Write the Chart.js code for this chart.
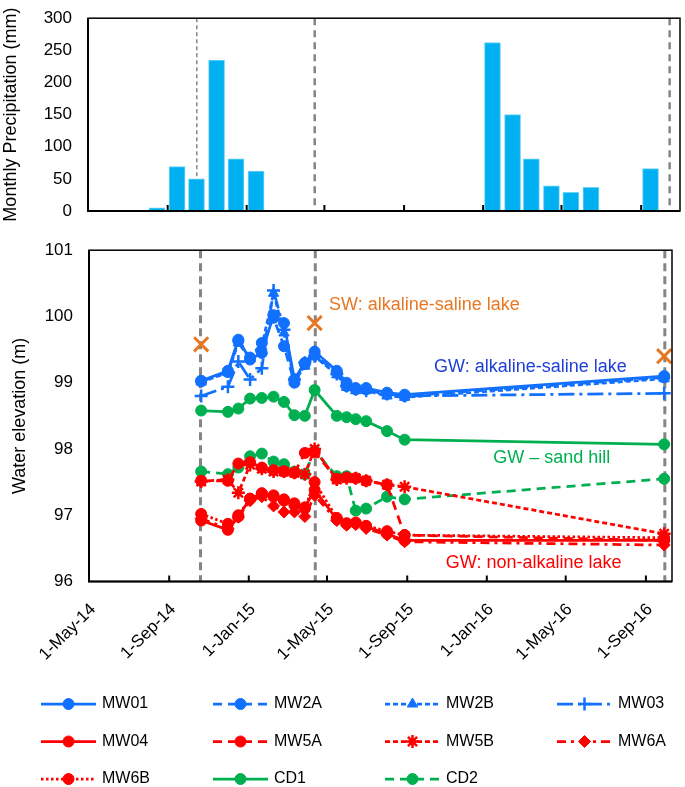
<!DOCTYPE html>
<html>
<head>
<meta charset="utf-8">
<script src="https://cdn.jsdelivr.net/npm/chart.js@4/dist/chart.umd.min.js"></script>
<style>
  html, body { margin: 0; padding: 0; background: #fff; }
  #wrap { position: relative; width: 685px; height: 787px; overflow: hidden; }
  #rainBox { position: absolute; left: 0; top: 0; width: 685px; height: 235px; }
  #levelBox { position: absolute; left: 0; top: 232px; width: 685px; height: 555px; }
</style>
</head>
<body>
<div id="wrap">
  <div id="rainBox"><canvas id="rainChart"></canvas></div>
  <div id="levelBox"><canvas id="levelChart"></canvas></div>
</div>
<script>
// monthly precipitation (mm), months May-14 .. Oct-16
const rainMonths = ['2014-05','2014-06','2014-07','2014-08','2014-09','2014-10','2014-11','2014-12',
  '2015-01','2015-02','2015-03','2015-04','2015-05','2015-06','2015-07','2015-08','2015-09','2015-10','2015-11','2015-12',
  '2016-01','2016-02','2016-03','2016-04','2016-05','2016-06','2016-07','2016-08','2016-09','2016-10'];
const rainMm = [0, 0, 0, 5, 69, 50, 235, 81,
  62, 0, 0, 0, 0, 0, 0, 0, 0, 0, 0, 0,
  262, 150, 81, 39, 29, 37, 0, 0, 66, 0];

// sampling dates of the water level campaign
const sampleDates = ['2014-10-20','2014-11-30','2014-12-16','2015-01-03','2015-01-21','2015-02-08','2015-02-24',
  '2015-03-12','2015-03-28','2015-04-12','2015-05-16','2015-05-31','2015-06-14','2015-06-30','2015-08-01',
  '2015-08-28','2016-09-29'];

// water elevation (m)
const mw01 = [99.03, 99.18, 99.65, 99.35, 99.45, 100.02, 99.90, 99.05, 99.30, 99.47, 99.18, 99.00, 98.92, 98.92, 98.85, 98.82, 99.10];
const mw2a = [99.02, 99.16, 99.63, 99.38, 99.60, 99.98, 99.55, 99.00, 99.28, 99.42, 99.15, 98.95, 98.90, 98.90, 98.83, 98.80, 99.08];
const mw2b = [99.01, 99.15, 99.60, 99.36, 99.55, 100.35, 99.75, 99.02, 99.25, 99.40, 99.12, 98.93, 98.88, 98.88, 98.80, 98.78, 99.06];
const mw03 = [98.80, 98.94, 99.32, 99.05, 99.22, 100.39, 99.80, 99.05, 99.30, 99.40, 99.13, 98.95, 98.90, 98.88, 98.83, 98.80, 98.84];
const mw04 = [96.92, 96.78, 96.98, 97.25, 97.33, 97.30, 97.24, 97.18, 97.12, 97.38, 96.94, 96.87, 96.88, 96.83, 96.72, 96.62, 96.62];
const mw5a = [97.52, 97.52, 97.78, 97.80, 97.72, 97.68, 97.66, 97.64, 97.94, 97.95, 97.55, 97.57, 97.56, 97.52, 97.46, 96.70, 96.62];
const mw5b = [97.51, 97.54, 97.34, 97.76, 97.70, 97.66, 97.66, 97.64, 97.62, 98.00, 97.54, 97.56, 97.56, 97.52, 97.46, 97.43, 96.72];
const mw6a = [96.95, 96.80, 96.97, 97.22, 97.28, 97.14, 97.05, 97.05, 96.98, 97.30, 96.92, 96.85, 96.86, 96.80, 96.70, 96.60, 96.55];
const mw6b = [97.02, 96.87, 97.00, 97.25, 97.33, 97.28, 97.22, 97.15, 97.10, 97.50, 96.96, 96.88, 96.89, 96.84, 96.76, 96.70, 96.66];
const cd1  = [98.58, 98.56, 98.61, 98.76, 98.77, 98.79, 98.71, 98.51, 98.50, 98.89, 98.50, 98.48, 98.45, 98.42, 98.27, 98.14, 98.07];
const cd2  = [97.66, 97.62, 97.72, 97.89, 97.93, 97.81, 97.77, 97.66, 97.62, 97.97, 97.59, 97.59, 97.07, 97.10, 97.28, 97.24, 97.55];

// surface water (lake) samples
const swDates = ['2014-10-20', '2015-04-12', '2016-09-29'];
const swLevel = [99.58, 99.90, 99.40];

// axis ticks and event lines
const tickDates = ['2014-05-01','2014-09-01','2015-01-01','2015-05-01','2015-09-01','2016-01-01','2016-05-01','2016-09-01'];
const rainEventDates = ['2014-10-16', '2015-04-16', '2016-10-15'];
const levelEventDates = ['2014-10-19', '2015-04-13', '2016-09-30'];

// text labels in the lower panel
const noteText = ['SW: alkaline-saline lake', 'GW: alkaline-saline lake', 'GW \u2013 sand hill', 'GW: non-alkaline lake'];
const noteDate = ['2015-05-04', '2015-10-12', '2016-01-11', '2015-10-30'];
const noteLevel = [100.17, 99.24, 97.87, 96.28];
const noteColor = ['#E87722', '#1F40D8', '#00B050', '#FF0000'];

const FONT = "'Liberation Sans', Arial, sans-serif";
Chart.defaults.font.family = FONT;
Chart.defaults.color = '#000';
Chart.defaults.animation = false;

const day = s => Date.parse(s + 'T00:00:00Z');
const midMonth = m => day(m + '-01') + 14.5 * 864e5;
const MON = ['Jan','Feb','Mar','Apr','May','Jun','Jul','Aug','Sep','Oct','Nov','Dec'];
const fmtDate = v => {
  const d = new Date(v);
  return d.getUTCDate() + '-' + MON[d.getUTCMonth()] + '-' + String(d.getUTCFullYear()).slice(2);
};
const pts = vals => sampleDates.map((d, i) => ({ x: day(d), y: vals[i] }));

// vertical dashed lines at the sampling campaigns
const eventLines = {
  id: 'eventLines',
  beforeDatasetsDraw(chart, args, opts) {
    const { ctx, chartArea, scales } = chart;
    ctx.save();
    ctx.strokeStyle = '#858585';
    opts.dates.forEach((d, i) => {
      const x = scales.x.getPixelForValue(day(d));
      ctx.lineWidth = opts.widths[i];
      ctx.setLineDash(opts.dashes[i]);
      ctx.beginPath();
      ctx.moveTo(x, chartArea.top);
      ctx.lineTo(x, chartArea.bottom);
      ctx.stroke();
    });
    ctx.restore();
  }
};

// box around plot area + inward tick marks on the x axis
const frame = {
  id: 'frame',
  afterDraw(chart) {
    const { ctx, chartArea: a, scales } = chart;
    ctx.save();
    ctx.strokeStyle = '#000';
    ctx.lineWidth = 1.5;
    ctx.strokeRect(a.left, a.top, a.right - a.left, a.bottom - a.top);
    ctx.lineWidth = 2;
    ctx.beginPath();
    ctx.moveTo(a.left, a.top);
    ctx.lineTo(a.left, a.bottom);
    ctx.lineTo(a.right, a.bottom);
    ctx.stroke();
    scales.x.ticks.forEach(t => {
      const x = scales.x.getPixelForValue(t.value);
      if (x <= a.left + 1) return;
      ctx.beginPath();
      ctx.moveTo(x, a.bottom);
      ctx.lineTo(x, a.bottom - 6);
      ctx.stroke();
    });
    ctx.restore();
  }
};

const xTicks = scale => { scale.ticks = tickDates.map(d => ({ value: day(d) })); };

// ---------- top: precipitation ----------
new Chart(document.getElementById('rainChart'), {
  type: 'bar',
  data: {
    datasets: [{
      label: 'Monthly Precipitation',
      data: rainMonths.map((m, i) => ({ x: midMonth(m), y: rainMm[i] })),
      backgroundColor: '#00B0F0',
      borderColor: '#6FD3F7',
      borderWidth: 1,
      barThickness: 16
    }]
  },
  options: {
    responsive: true,
    maintainAspectRatio: false,
    layout: { padding: { left: 0, right: 5, top: 9, bottom: 24 } },
    plugins: {
      legend: { display: false },
      tooltip: { enabled: false },
      eventLines: { dates: rainEventDates, widths: [1.5, 2.5, 2.5], dashes: [[4, 3], [7, 5], [7, 5]] }
    },
    scales: {
      x: {
        type: 'linear',
        offset: false,
        min: day('2014-05-01'),
        max: day('2016-10-31'),
        afterBuildTicks: xTicks,
        afterFit: s => { s.height = 0; s.paddingLeft = 0; s.paddingRight = 0; },
        grid: { display: false, offset: false },
        border: { display: false },
        ticks: { display: false }
      },
      y: {
        min: 0, max: 300,
        afterFit: s => { s.width = 88; },
        ticks: { stepSize: 50, padding: 8, font: { size: 17 } },
        grid: { display: false },
        border: { display: false },
        title: { display: true, text: 'Monthly Precipitation (mm)', font: { size: 18 }, padding: { top: 0, bottom: 4 } }
      }
    }
  },
  plugins: [eventLines, frame]
});

// ---------- bottom: water elevation ----------
const BLUE = '#1270FF', RED = '#FF0000', GREEN = '#00B050';
const line = (label, vals, color, dash, style, radius, bw) => ({
  label, data: pts(vals), inLegend: true,
  borderColor: color, backgroundColor: color,
  borderWidth: 2.75, borderDash: dash,
  pointStyle: style, pointRadius: radius,
  pointBackgroundColor: color, pointBorderColor: color, pointBorderWidth: bw,
  tension: 0
});

const levelDatasets = [
  {
    label: 'SW', data: swDates.map((d, i) => ({ x: day(d), y: swLevel[i] })), inLegend: false,
    showLine: false, pointStyle: 'crossRot', pointRadius: 10,
    pointBorderColor: '#E87722', pointBackgroundColor: '#E87722', pointBorderWidth: 3, borderColor: '#E87722'
  },
  line('MW01', mw01, BLUE, [], 'circle', 5.5, 1),
  line('MW2A', mw2a, BLUE, [9, 6], 'circle', 5.5, 1),
  line('MW2B', mw2b, BLUE, [5, 3], 'triangle', 6, 1),
  line('MW03', mw03, BLUE, [16, 5, 3, 5], 'cross', 6.5, 2.5),
  line('MW04', mw04, RED, [], 'circle', 5.5, 1),
  line('MW5A', mw5a, RED, [9, 6], 'circle', 5.5, 1),
  line('MW5B', mw5b, RED, [5, 3], 'star', 6.5, 2.5),
  line('MW6A', mw6a, RED, [9, 5, 3, 5], 'rectRot', 6, 1),
  line('MW6B', mw6b, RED, [2.5, 2.5], 'circle', 5.5, 1),
  line('CD1', cd1, GREEN, [], 'circle', 5.5, 1),
  line('CD2', cd2, GREEN, [9, 6], 'circle', 5.5, 1)
];

const notes = {
  id: 'notes',
  afterDatasetsDraw(chart) {
    const { ctx, scales } = chart;
    ctx.save();
    ctx.font = '18px ' + FONT;
    ctx.textBaseline = 'middle';
    ctx.textAlign = 'left';
    noteText.forEach((t, i) => {
      ctx.fillStyle = noteColor[i];
      ctx.fillText(t, scales.x.getPixelForValue(day(noteDate[i])), scales.y.getPixelForValue(noteLevel[i]));
    });
    ctx.restore();
  }
};

// legend laid out as a 4-column grid below the axis
const gridLegend = {
  id: 'gridLegend',
  afterDraw(chart) {
    const { ctx, chartArea } = chart;
    const colX = [41, 213, 385, 557];
    const rowY = [122.5, 160, 197.5];
    const items = chart.data.datasets.filter(ds => ds.inLegend);
    ctx.save();
    items.forEach((ds, i) => {
      const x0 = colX[i % 4];
      const y = chartArea.bottom + rowY[Math.floor(i / 4)];
      ctx.strokeStyle = ds.borderColor;
      ctx.lineWidth = ds.borderWidth;
      ctx.setLineDash(ds.borderDash);
      ctx.beginPath();
      ctx.moveTo(x0, y);
      ctx.lineTo(x0 + 55, y);
      ctx.stroke();
      ctx.setLineDash([]);
      ctx.fillStyle = ds.pointBackgroundColor;
      ctx.lineWidth = ds.pointBorderWidth;
      Chart.helpers.drawPoint(ctx, { pointStyle: ds.pointStyle, radius: ds.pointRadius, rotation: 0, borderWidth: ds.pointBorderWidth }, x0 + 27.5, y);
      ctx.fillStyle = '#000';
      ctx.font = '16px ' + FONT;
      ctx.textBaseline = 'middle';
      ctx.textAlign = 'left';
      ctx.fillText(ds.label, x0 + 61, y);
    });
    ctx.restore();
  }
};

new Chart(document.getElementById('levelChart'), {
  type: 'line',
  data: { datasets: levelDatasets },
  options: {
    responsive: true,
    maintainAspectRatio: false,
    layout: { padding: { left: 5, right: 8, top: 14, bottom: 105.5 } },
    plugins: {
      legend: { display: false },
      tooltip: { enabled: false },
      eventLines: { dates: levelEventDates, widths: [3, 3, 3], dashes: [[8, 5], [8, 5], [8, 5]] }
    },
    scales: {
      x: {
        type: 'linear',
        min: day('2014-05-01'),
        max: day('2016-10-11'),
        afterBuildTicks: xTicks,
        afterFit: s => { s.height = 100; s.paddingLeft = 0; s.paddingRight = 0; },
        grid: { display: false },
        border: { display: false },
        ticks: { autoSkip: false, minRotation: 45, maxRotation: 45, padding: 10, labelOffset: 4, font: { size: 17 }, callback: v => fmtDate(v) }
      },
      y: {
        min: 96, max: 101,
        afterFit: s => { s.width = 84; },
        ticks: { stepSize: 1, padding: 8, font: { size: 17 } },
        grid: { display: false },
        border: { display: false },
        title: { display: true, text: 'Water elevation (m)', font: { size: 18 }, padding: { top: 4, bottom: 4 } }
      }
    }
  },
  plugins: [eventLines, notes, frame, gridLegend]
});
</script>
</body>
</html>
